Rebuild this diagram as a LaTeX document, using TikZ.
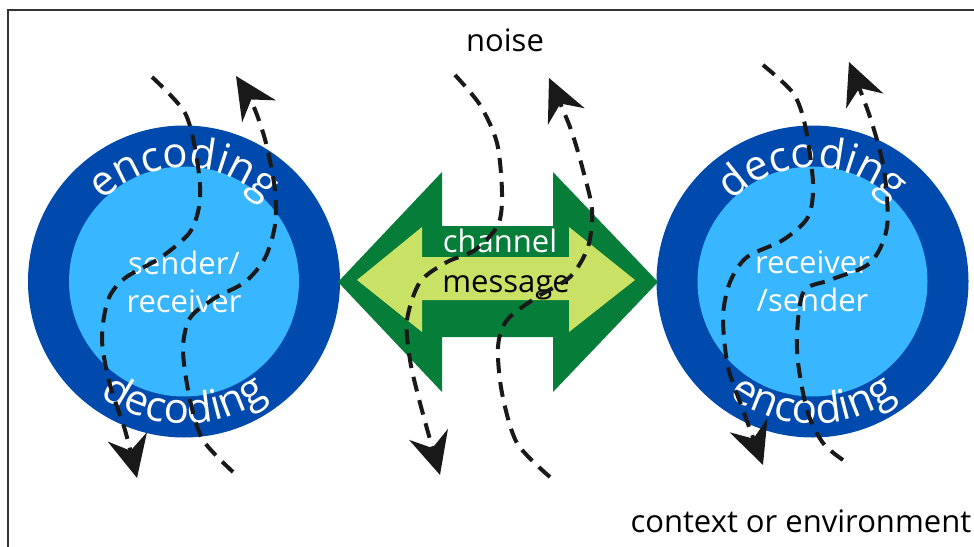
\documentclass[tikz,border=0pt]{standalone}
\usepackage{fontspec}
\setmainfont{Open Sans}
\usetikzlibrary{arrows.meta,decorations.text}
\definecolor{ringblue}{HTML}{004AAD}
\definecolor{coreblue}{HTML}{38B6FF}
\definecolor{darkgreen}{HTML}{067D38}
\definecolor{limegreen}{HTML}{C9E265}
\newcommand\ringfont{\fontsize{42}{42}\selectfont\color{white}}
\begin{document}
\begin{tikzpicture}[x=1pt,y=1pt,
    lbl/.style={font=\fontsize{31}{38}\selectfont},
    ring/.style={circle,fill=ringblue,minimum size=312pt,inner sep=0pt},
    core/.style={circle,fill=coreblue,minimum size=230pt,inner sep=0pt,
        align=center,text=white,lbl},
    ringtext/.style={decorate,decoration={text along path,text align=center,
        text={|\ringfont|#1}}},
    noise/.style={line width=4pt,dash pattern=on 15pt off 9pt,black!90,
        -{Stealth[length=42pt,width=40pt,inset=14pt]}}]
    \clip (0,0) rectangle (974,-546);
    \draw [line width=1.5pt,black!80] (8,-10) rectangle (1000,-580);
    % circles
    \node [ring] (left) at (184,-281.5) {};
    \node [core] (lcore) at (left) {sender/\\receiver};
    \node [ring] (right) at (812.5,-281.5) {};
    \node [core] (rcore) at (right) {receiver\\/sender};
    \path [ringtext={encoding}] (left.center) ++(180:114) arc [start angle=180,end angle=0,radius=114];
    \path [ringtext={decoding}] (left.center) ++(180:142) arc [start angle=180,end angle=360,radius=142];
    \path [ringtext={decoding}] (right.center) ++(180:114) arc [start angle=180,end angle=0,radius=114];
    \path [ringtext={encoding}] (right.center) ++(180:142) arc [start angle=180,end angle=360,radius=142];
    % channel
    \fill [darkgreen] (338,-282) -- (442,-172) -- (442,-226) -- (553,-226) -- (553,-172) -- (658,-282)
        -- (553,-392) -- (553,-337) -- (442,-337) -- (442,-392) -- cycle;
    \fill [limegreen] (357,-280) -- (422,-227) -- (422,-257) -- (569,-257) -- (569,-227) -- (635,-280)
        -- (569,-332) -- (569,-300) -- (422,-300) -- (422,-332) -- cycle;
    \node [lbl,text=white] (channel) at (500,-241) {channel};
    \node [lbl] (message) at (506,-288) {message};
    \node [lbl] (noisetxt) at (505,-40) {noise};
    \node [lbl,anchor=base west] (context) at (627,-532) {context or environment};
    % noise
    \draw [noise] plot [smooth] coordinates {(152,-77) (185,-113) (197,-160) (200,-200) (190,-232)
        (160,-258) (125,-278) (108,-300) (102,-340) (110,-385) (125,-430) (137,-478)};
    \draw [noise] plot [smooth] coordinates {(233,-472) (203,-440) (190,-400) (183,-350) (190,-318)
        (215,-298) (245,-282) (265,-258) (275,-225) (275,-190) (266,-143) (253,-105) (236,-76)};
    \draw [noise] plot [smooth] coordinates {(455,-75) (480,-105) (497,-143) (502,-193) (498,-225)
        (475,-250) (447,-262) (420,-282) (407,-320) (410,-360) (420,-403) (440,-475)};
    \draw [noise] plot [smooth] coordinates {(550,-477) (517,-443) (502,-393) (498,-347) (507,-320)
        (537,-297) (570,-277) (588,-247) (592,-210) (583,-170) (570,-127) (549,-78)};
    \draw [noise] plot [smooth] coordinates {(763,-65) (793,-93) (805,-125) (813,-183) (808,-217)
        (783,-240) (747,-257) (730,-282) (723,-317) (728,-367) (743,-410) (763,-465)};
    \draw [noise] plot [smooth] coordinates {(843,-460) (823,-443) (807,-410) (797,-350) (803,-293)
        (830,-280) (870,-263) (887,-227) (884,-170) (870,-117) (849,-62)};
\end{tikzpicture}
\end{document}
